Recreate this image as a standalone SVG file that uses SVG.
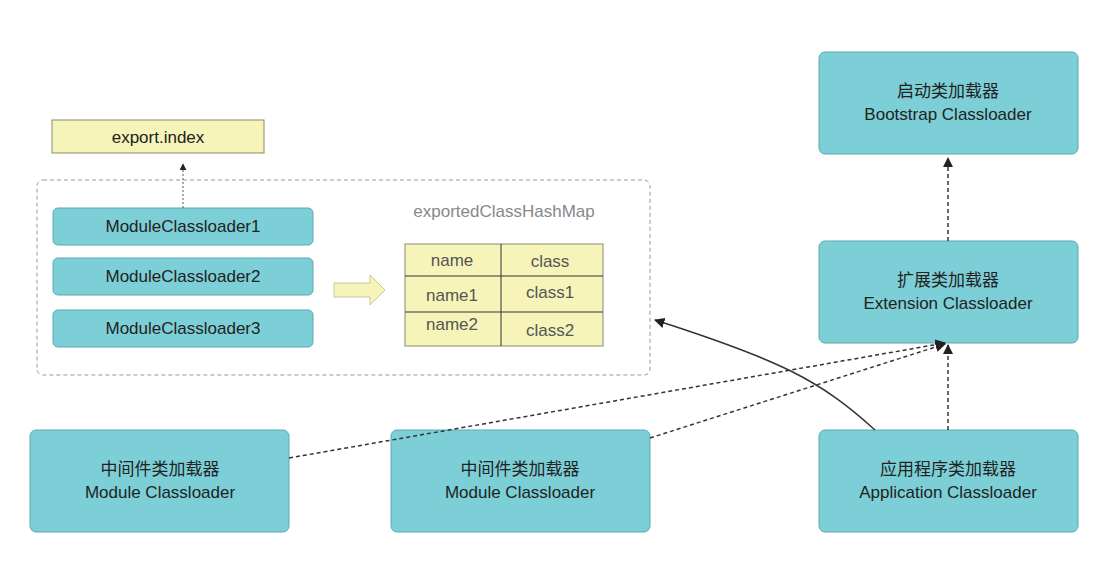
<svg xmlns="http://www.w3.org/2000/svg" width="1110" height="561" viewBox="0 0 1110 561">
<style>
.n{fill:#7ccfd6;stroke:#5aaab2;stroke-width:1}
.y{fill:#f6f4b8;stroke:#8a8a6a;stroke-width:1}
text{font-family:"Liberation Sans","Noto Sans CJK SC",sans-serif;fill:#222;text-anchor:middle}
.t{font-size:17px}
.d{fill:none;stroke:#333;stroke-width:1.5;stroke-dasharray:4 3}
</style>
<defs>
<marker id="a" viewBox="0 0 10 10" refX="9" refY="5" markerWidth="7" markerHeight="7" orient="auto"><path d="M0,0L10,5L0,10z" fill="#222"/></marker>
</defs>
<rect width="1110" height="561" fill="#fff"/>
<g id="export-index"><rect class="y" x="52" y="120" width="212" height="33"/><text class="t" x="158" y="143">export.index</text></g>
<g id="container"><rect x="37" y="180" width="613" height="195" rx="6" fill="none" stroke="#999" stroke-dasharray="4 3"/><text x="504" y="217" font-size="17" style="fill:#888">exportedClassHashMap</text></g>
<g id="mcl1"><rect class="n" x="53" y="208" width="260" height="37" rx="5"/><text class="t" x="183" y="232">ModuleClassloader1</text></g>
<g id="mcl2"><rect class="n" x="53" y="258" width="260" height="37" rx="5"/><text class="t" x="183" y="282">ModuleClassloader2</text></g>
<g id="mcl3"><rect class="n" x="53" y="310" width="260" height="37" rx="5"/><text class="t" x="183" y="334">ModuleClassloader3</text></g>
<g id="fat-arrow"><path d="M334,283h36v-8l15,15l-15,15v-8h-36z" fill="#f6f4b8" stroke="#c8c890"/></g>
<g id="table"><rect class="y" x="405" y="244" width="198" height="102"/>
<line x1="501" y1="244" x2="501" y2="346" stroke="#333"/><line x1="405" y1="276" x2="603" y2="276" stroke="#333"/><line x1="405" y1="312" x2="603" y2="312" stroke="#333"/>
<g style="font-size:17px"><text x="452" y="266" style="fill:#555">name</text><text x="550" y="267" style="fill:#555">class</text>
<text x="452" y="301" style="fill:#555">name1</text><text x="550" y="298" style="fill:#555">class1</text>
<text x="452" y="330" style="fill:#555">name2</text><text x="550" y="336" style="fill:#555">class2</text></g></g>
<g id="boot"><rect class="n" x="819" y="52" width="259" height="102" rx="6"/><text class="t" x="948" y="97">启动类加载器</text><text class="t" x="948" y="120">Bootstrap Classloader</text></g>
<g id="ext"><rect class="n" x="819" y="241" width="259" height="102" rx="6"/><text class="t" x="948" y="286">扩展类加载器</text><text class="t" x="948" y="309">Extension Classloader</text></g>
<g id="app"><rect class="n" x="819" y="430" width="259" height="102" rx="6"/><text class="t" x="948" y="475">应用程序类加载器</text><text class="t" x="948" y="498">Application Classloader</text></g>
<g id="mod1"><rect class="n" x="30" y="430" width="259" height="102" rx="6"/><text class="t" x="160" y="475">中间件类加载器</text><text class="t" x="160" y="498">Module Classloader</text></g>
<g id="mod2"><rect class="n" x="391" y="430" width="259" height="102" rx="6"/><text class="t" x="520" y="475">中间件类加载器</text><text class="t" x="520" y="498">Module  Classloader</text></g>
<g id="connectors">
<line x1="183" y1="208" x2="183" y2="164" stroke="#555" stroke-dasharray="2 2" marker-end="url(#a)"/>
<line class="d" x1="948" y1="241" x2="948" y2="158" marker-end="url(#a)"/>
<line class="d" x1="948" y1="430" x2="948" y2="345" marker-end="url(#a)"/>
<line class="d" x1="289" y1="458" x2="945" y2="343" marker-end="url(#a)"/>
<line class="d" x1="650" y1="438" x2="945" y2="344" marker-end="url(#a)"/>
<path d="M875,430C820,380 780,360 655,320" fill="none" stroke="#333" stroke-width="1.5" marker-end="url(#a)"/>
</g>
</svg>
